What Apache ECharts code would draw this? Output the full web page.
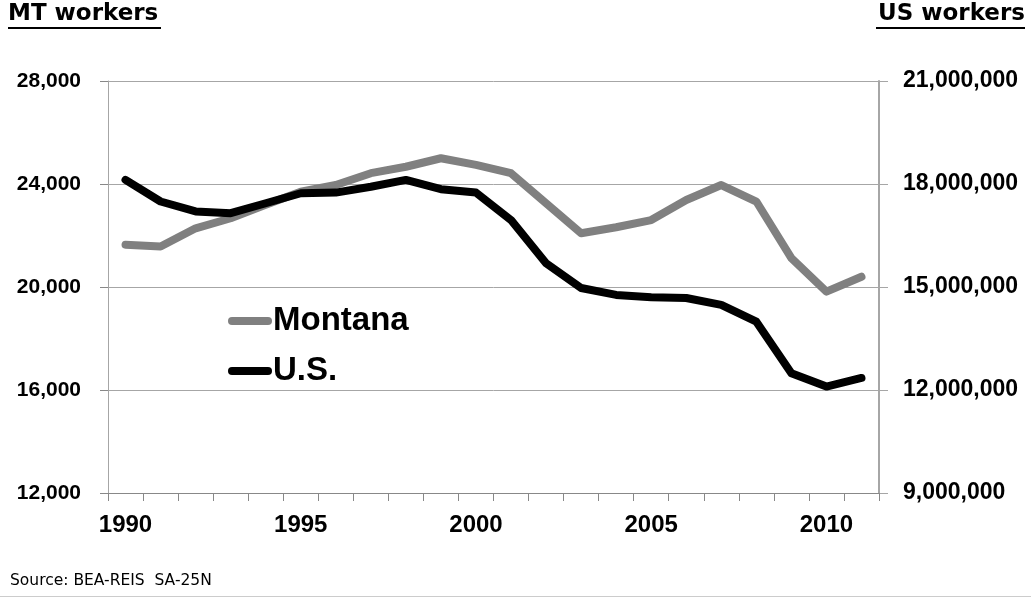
<!DOCTYPE html>
<html>
<head>
<meta charset="utf-8">
<script src="https://cdn.jsdelivr.net/npm/echarts@6/dist/echarts.min.js"></script>
<style>
html,body{margin:0;padding:0;background:#fff;}
#chart{width:1031px;height:598px;}
</style>
</head>
<body>
<div id="chart"></div>
<script>
const years = ['1990','1991','1992','1993','1994','1995','1996','1997','1998','1999','2000','2001','2002','2003','2004','2005','2006','2007','2008','2009','2010','2011'];
const montana = [21640,21570,22280,22670,23190,23700,23960,24420,24670,25000,24740,24420,23250,22090,22320,22600,23380,23960,23320,21120,19820,20400];
const us = [18120000,17490000,17200000,17150000,17440000,17730000,17750000,17920000,18120000,17850000,17750000,16950000,15690000,14970000,14770000,14700000,14680000,14480000,13990000,12490000,12100000,12350000];
const leftTicks = {min:12000, max:28000, interval:4000};
const rightTicks = {min:9000000, max:21000000, interval:3000000};

const NARROW = "'Liberation Sans Narrow','Arial Narrow','Liberation Sans',sans-serif";
const fmt = v => String(v).replace(/\B(?=(\d{3})+(?!\d))/g, ',');
const gray = '#a6a6a6';

const chart = echarts.init(document.getElementById('chart'), null, {renderer:'canvas'});
chart.setOption({
  animation:false,
  backgroundColor:'#fff',
  grid:{left:108, right:152, top:81, bottom:105, containLabel:false},
  legend:{
    orient:'vertical', left:223, top:296,
    itemWidth:36, itemHeight:10, itemGap:10,
    textStyle:{fontFamily:NARROW, fontWeight:'bold', fontSize:33, color:'#000', lineHeight:40},
    lineStyle:{width:'inherit'},
    data:['Montana','U.S.']
  },
  xAxis:{
    type:'category', data:years, boundaryGap:true,
    axisLine:{show:true, lineStyle:{color:'#888', width:1}},
    axisTick:{show:true, interval:0, length:8, lineStyle:{color:'#888'}},
    axisLabel:{interval:4, margin:20, fontFamily:NARROW, fontWeight:'bold', fontSize:24, color:'#000'},
    splitLine:{show:false}
  },
  yAxis:[
    {type:'value', min:leftTicks.min, max:leftTicks.max, interval:leftTicks.interval, position:'left',
     axisLine:{show:true, lineStyle:{color:gray}},
     axisTick:{show:true, length:8, lineStyle:{color:'#888'}},
     axisLabel:{margin:27, formatter:fmt, fontFamily:NARROW, fontWeight:'bold', fontSize:21, color:'#000'},
     splitLine:{show:true, lineStyle:{color:gray, width:1}}},
    {type:'value', min:rightTicks.min, max:rightTicks.max, interval:rightTicks.interval, position:'right',
     axisLine:{show:true, lineStyle:{color:gray, width:2}},
     axisTick:{show:true, length:9, lineStyle:{color:gray}},
     axisLabel:{margin:24, formatter:fmt, fontFamily:NARROW, fontWeight:'bold', fontSize:23, color:'#000'},
     splitLine:{show:false}}
  ],
  series:[
    {name:'Montana', type:'line', yAxisIndex:0, data:montana, symbol:'none',
     lineStyle:{color:'#808080', width:8, cap:'round', join:'round'}, itemStyle:{color:'#808080'}},
    {name:'U.S.', type:'line', yAxisIndex:1, data:us, symbol:'none',
     lineStyle:{color:'#000', width:8, cap:'round', join:'round'}, itemStyle:{color:'#000'}}
  ],
  graphic:[
    {type:'text', left:8, top:3, style:{text:'MT workers', font:"bold 23px 'DejaVu Sans'", fill:'#000'}},
    {type:'rect', left:8, top:27, shape:{width:153, height:2}, style:{fill:'#000'}},
    {type:'text', right:6, top:3, style:{text:'US workers', font:"bold 23px 'DejaVu Sans'", fill:'#000'}},
    {type:'rect', left:876, top:27, shape:{width:149, height:2}, style:{fill:'#000'}},
    {type:'text', left:10, top:573, style:{text:'Source: BEA-REIS  SA-25N', font:"15.5px 'DejaVu Sans'", fill:'#000'}},
    {type:'rect', left:0, top:596, shape:{width:1031, height:1}, style:{fill:'#ccc'}}
  ]
});
</script>
</body>
</html>
